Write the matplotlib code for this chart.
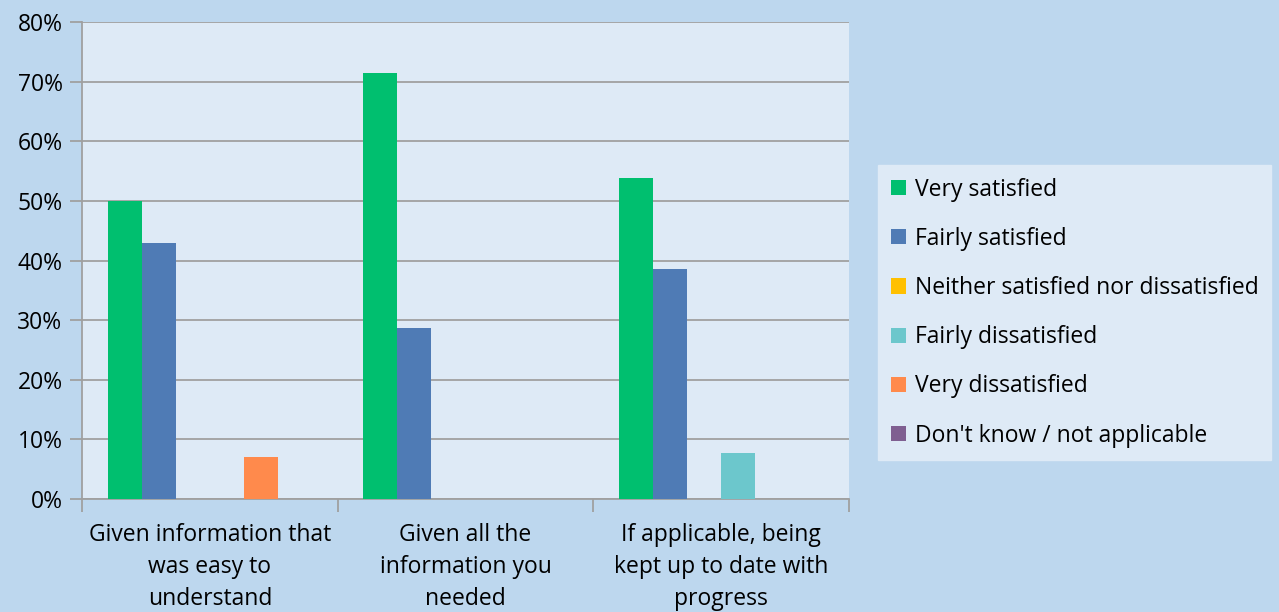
import matplotlib.pyplot as plt
import numpy as np
from matplotlib.ticker import PercentFormatter, FixedLocator

plt.rcParams['font.family'] = ['Open Sans', 'DejaVu Sans']

categories = ["Given information that\nwas easy to\nunderstand",
              "Given all the\ninformation you\nneeded",
              "If applicable, being\nkept up to date with\nprogress"]
series = ["Very satisfied", "Fairly satisfied", "Neither satisfied nor dissatisfied",
          "Fairly dissatisfied", "Very dissatisfied", "Don't know / not applicable"]
very_sat = [50.0, 71.4, 53.8]
fairly_sat = [42.9, 28.6, 38.5]
neither = [0, 0, 0]
fairly_dis = [0, 0, 7.7]
very_dis = [7.1, 0, 0]
dont_know = [0, 0, 0]
values = [very_sat, fairly_sat, neither, fairly_dis, very_dis, dont_know]
colors = ["#00BF6F", "#4F7BB5", "#FFC000", "#6CC7CC", "#FF8A4C", "#7F5F91"]

outer = "#BDD7EE"
inner = "#DEEAF6"
grid = "#A0A0A0"

fig = plt.figure(figsize=(12.79, 6.12), dpi=100, facecolor=outer)
ax = fig.add_axes([0.0641, 0.1846, 0.5997, 0.7794])
ax.set_facecolor(inner)

x = np.arange(len(categories))
w = 0.8 / len(series)
for i, (name, vals, c) in enumerate(zip(series, values, colors)):
    ax.bar(x - 0.4 + w * (i + 0.5), vals, width=w, color=c, label=name, zorder=3)

ax.set_xlim(-0.5, 2.5)
ax.set_ylim(0, 80)
ax.set_yticks(np.arange(0, 81, 10))
ax.yaxis.set_major_formatter(PercentFormatter(decimals=0))
ax.grid(axis='y', color=grid, linewidth=1.3, zorder=0)
ax.set_xticks(x)
ax.set_xticklabels(categories, fontsize=16.5, linespacing=1.45)
ax.xaxis.set_minor_locator(FixedLocator([-0.5, 0.5, 1.5, 2.5]))
ax.tick_params(axis='x', which='major', length=0, pad=17)
ax.tick_params(axis='x', which='minor', length=9, color=grid, width=1.3)
ax.tick_params(axis='y', length=9, color=grid, width=1.3, labelsize=16.5, pad=5)
for s in ['top', 'right']:
    ax.spines[s].set_visible(False)
for s in ['left', 'bottom']:
    ax.spines[s].set_color(grid)
    ax.spines[s].set_linewidth(1.3)

leg = fig.legend(loc='upper left', bbox_to_anchor=(0.6865, 0.7304), fontsize=16.5,
                 frameon=True, fancybox=False, facecolor=inner, edgecolor=inner,
                 handlelength=0.65, handleheight=0.65, handletextpad=0.4,
                 labelspacing=1.1, borderpad=0.55, borderaxespad=0)
leg.get_frame().set_alpha(1)

fig.savefig("out.png", dpi=100, facecolor=outer)
